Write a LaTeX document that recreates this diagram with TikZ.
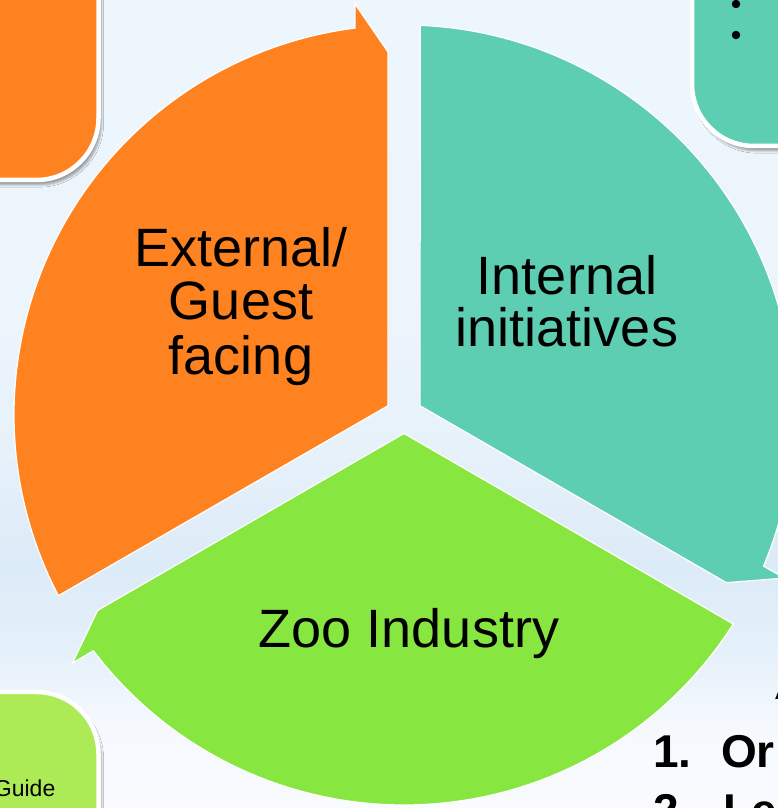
\documentclass[tikz,border=0pt]{standalone}
\usepackage{fontspec}
\setmainfont{Liberation Sans}
\usetikzlibrary{shadows.blur}
\definecolor{cOrange}{HTML}{FF8220}
\definecolor{cTeal}{HTML}{5ECEB2}
\definecolor{cGreen}{HTML}{88E641}
\definecolor{cLime}{HTML}{ACEB55}
\definecolor{bgA}{HTML}{F9FBFE}
\definecolor{bgB}{HTML}{F5F9FE}
\definecolor{bgC}{HTML}{E4F0FA}
\definecolor{bgD}{HTML}{DCEBF8}
\definecolor{bgE}{HTML}{E6F1FA}
\definecolor{bgF}{HTML}{EDF5FC}
\definecolor{bgG}{HTML}{EEF6FD}
\pgfdeclareverticalshading{bgshade}{100bp}{color(0bp)=(bgA); color(25bp)=(bgA); color(30bp)=(bgB); color(35bp)=(bgC); color(40bp)=(bgD); color(47bp)=(bgE); color(56bp)=(bgF); color(75bp)=(bgG); color(100bp)=(bgG)}
\begin{document}
\begin{tikzpicture}[x=1pt,y=1pt,
  wedge/.style={draw=white, line width=1.2pt, line join=miter},
  cornerbox/.style={rounded corners=62pt, draw=white, line width=4.5pt,
    blur shadow={shadow xshift=3pt, shadow yshift=-5pt, shadow blur steps=6, shadow opacity=35}},
  biglabel/.style={font=\fontsize{54}{54}\selectfont, inner sep=0pt, anchor=base},
  listtext/.style={font=\fontsize{46}{46}\selectfont\bfseries, inner sep=0pt, anchor=base west},
  bulletdot/.style={circle, fill=black, inner sep=0pt, minimum size=8.5pt}]
\useasboundingbox (0,0) rectangle (778,808);
\shade[shading=bgshade] (0,0) rectangle (778,808);
\clip (0,0) rectangle (778,808);
% corner boxes (parts of neighbouring shapes)
\path[cornerbox, fill=cOrange] (-120,628) rectangle (98.5,940);
\path[cornerbox, fill=cTeal] (692,662) rectangle (940,940);
\node[bulletdot] (b1) at (736,804) {};
\node[bulletdot] (b2) at (736,773) {};
\path[cornerbox, fill=cLime] (-120,-130) rectangle (98.5,116);
\node[font=\fontsize{23}{23}\selectfont, inner sep=0pt, anchor=base east] (guide) at (55.5,11) {Guide};
% cycle wedges
\foreach \r/\c in {0/cOrange,-120/cTeal,120/cGreen}{
  \filldraw[wedge, fill=\c, shift={(404,393)}, rotate=\r]
    (-16,9.24) -- (-16,363) -- (96.8:414) -- (97.2:390)
    arc[start angle=97.2, end angle=207.6, radius=390] -- cycle;
}
% labels
\node[biglabel] (ext1) at (241,541) {External/};
\node[biglabel] (ext2) at (241,488) {Guest};
\node[biglabel] (ext3) at (241,433) {facing};
\node[biglabel] (int1) at (567,513) {Internal};
\node[biglabel] (int2) at (567,461) {initiatives};
\node[biglabel] (zoo) at (409,160) {Zoo Industry};
% list text at bottom right
\node[listtext, font=\fontsize{46}{46}\selectfont] (hA) at (775,108) {A};
\node[listtext] (n1) at (653,40) {1.};
\node[listtext] (t1) at (721,40) {Or};
\node[listtext] (n2) at (653,-18) {2.};
\node[listtext] (t2) at (723,-18) {Le};
\end{tikzpicture}
\end{document}
